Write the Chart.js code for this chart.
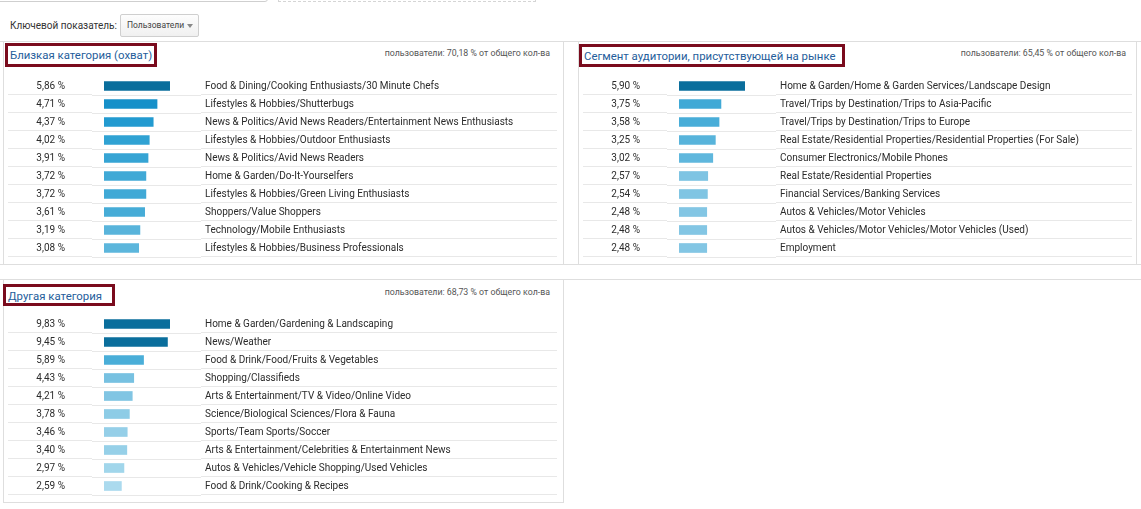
<!DOCTYPE html>
<html lang="ru">
<head>
<meta charset="utf-8">
<title>Категории аудитории</title>
<script src="https://cdn.jsdelivr.net/npm/chart.js@4.4.1/dist/chart.umd.min.js"></script>
<style>
  html, body { margin: 0; padding: 0; background: #fff; }
  body { width: 1141px; height: 509px; position: relative; overflow: hidden; font-family: Roboto, Arial, sans-serif; }
  .abs { position: absolute; }
  .hline { position: absolute; left: 0; width: 1141px; height: 1px; background: #dedede; }
  .panel { position: absolute; border-left: 1px solid #dedede; border-right: 1px solid #dedede; box-sizing: border-box; }
  .title { position: absolute; border: 3px solid #7a0b1d; box-sizing: border-box; font-size: 11.4px; color: #255d9b; line-height: 18px; padding-left: 2px; white-space: nowrap; }
  .total { position: absolute; font-size: 8.8px; color: #555; white-space: nowrap; text-align: right; }
  canvas { position: absolute; }
</style>
</head>
<body>
  <!-- top leftovers of the toolbar -->
  <div class="abs" style="left:-5px; top:-30px; width:273px; height:32px; border:1px solid #cfcfcf; border-radius:3px; box-sizing:border-box;"></div>
  <div class="abs" style="left:278px; top:-30px; width:258px; height:32px; border:1px dashed #d5d5d5; box-sizing:border-box;"></div>

  <div class="abs" style="left:10px; top:20px; font-size:10px; color:#333;">Ключевой показатель:</div>
  <div class="abs" style="left:120px; top:14px; width:79px; height:23px; border:1px solid #cfcfcf; border-radius:2px; box-sizing:border-box; background:linear-gradient(#fdfdfd,#f0f0f0);">
    <span class="abs" style="left:6px; top:5px; font-size:8.5px; color:#444;">Пользователи</span>
    <span class="abs" style="left:66px; top:9px; width:0; height:0; border-left:3px solid transparent; border-right:3px solid transparent; border-top:4px solid #888;"></span>
  </div>

  <div class="hline" style="top:41px;"></div>
  <div class="hline" style="top:264px;"></div>
  <div class="hline" style="top:279px;"></div>

  <div class="panel" style="left:3px; top:41px; width:561px; height:224px;"></div>
  <div class="panel" style="left:578px; top:41px; width:559px; height:224px;"></div>
  <div class="panel" style="left:3px; top:279px; width:561px; height:224px; border-bottom:1px solid #dedede;"></div>

  <div id="title0" class="title" style="left:5px; top:43px; width:152px; height:24px;"></div>
  <div id="title1" class="title" style="left:579px; top:44px; width:266px; height:23px;"></div>
  <div id="title2" class="title" style="left:3px; top:284px; width:112px; height:22px;"></div>

  <div id="total0" class="total" style="right:591px; top:48px;"></div>
  <div id="total1" class="total" style="right:15px; top:48px;"></div>
  <div id="total2" class="total" style="right:591px; top:287px;"></div>

  <canvas id="chart0" width="549" height="192" style="left:8px; top:71px;"></canvas>
  <canvas id="chart1" width="549" height="192" style="left:583px; top:71px;"></canvas>
  <canvas id="chart2" width="549" height="192" style="left:8px; top:309px;"></canvas>

<script>
// Panel titles and "share of total" captions
const panelTitles = ['Близкая категория (охват)', 'Сегмент аудитории, присутствующей на рынке', 'Другая категория'];
const panelTotals = [70.18, 65.45, 68.73];

// Affinity categories
const affinityCats = [
    'Food & Dining/Cooking Enthusiasts/30 Minute Chefs',
    'Lifestyles & Hobbies/Shutterbugs',
    'News & Politics/Avid News Readers/Entertainment News Enthusiasts',
    'Lifestyles & Hobbies/Outdoor Enthusiasts',
    'News & Politics/Avid News Readers',
    'Home & Garden/Do-It-Yourselfers',
    'Lifestyles & Hobbies/Green Living Enthusiasts',
    'Shoppers/Value Shoppers',
    'Technology/Mobile Enthusiasts',
    'Lifestyles & Hobbies/Business Professionals'
];
const affinityVals = [5.86, 4.71, 4.37, 4.02, 3.91, 3.72, 3.72, 3.61, 3.19, 3.08];

// In-market segments
const inMarketCats = [
    'Home & Garden/Home & Garden Services/Landscape Design',
    'Travel/Trips by Destination/Trips to Asia-Pacific',
    'Travel/Trips by Destination/Trips to Europe',
    'Real Estate/Residential Properties/Residential Properties (For Sale)',
    'Consumer Electronics/Mobile Phones',
    'Real Estate/Residential Properties',
    'Financial Services/Banking Services',
    'Autos & Vehicles/Motor Vehicles',
    'Autos & Vehicles/Motor Vehicles/Motor Vehicles (Used)',
    'Employment'
];
const inMarketVals = [5.90, 3.75, 3.58, 3.25, 3.02, 2.57, 2.54, 2.48, 2.48, 2.48];

// Other categories
const otherCats = [
    'Home & Garden/Gardening & Landscaping',
    'News/Weather',
    'Food & Drink/Food/Fruits & Vegetables',
    'Shopping/Classifieds',
    'Arts & Entertainment/TV & Video/Online Video',
    'Science/Biological Sciences/Flora & Fauna',
    'Sports/Team Sports/Soccer',
    'Arts & Entertainment/Celebrities & Entertainment News',
    'Autos & Vehicles/Vehicle Shopping/Used Vehicles',
    'Food & Drink/Cooking & Recipes'
];
const otherVals = [9.83, 9.45, 5.89, 4.43, 4.21, 3.78, 3.46, 3.40, 2.97, 2.59];

const fmtPct = v => v.toFixed(2).replace('.', ',') + ' %';

// bar colour depends on the share of the panel's largest value
const colorStops = [
    [0.00, [184, 224, 242]],
    [0.26, [172, 218, 238]],
    [0.30, [162, 214, 235]],
    [0.35, [149, 207, 232]],
    [0.39, [140, 203, 230]],
    [0.43, [128, 197, 227]],
    [0.51, [95, 183, 221]],
    [0.55, [88, 180, 219]],
    [0.60, [74, 174, 216]],
    [0.64, [63, 168, 214]],
    [0.69, [47, 161, 211]],
    [0.75, [33, 153, 208]],
    [0.80, [22, 145, 203]],
    [0.90, [10, 110, 156]],
    [1.00, [10, 110, 156]]
];
function colorFor(ratio) {
    for (let i = 1; i < colorStops.length; i++) {
        const [r1, c1] = colorStops[i];
        if (ratio <= r1) {
            const [r0, c0] = colorStops[i - 1];
            const t = (ratio - r0) / (r1 - r0);
            const c = c0.map((v, k) => Math.round(v + (c1[k] - v) * t));
            return `rgb(${c[0]}, ${c[1]}, ${c[2]})`;
        }
    }
    return 'rgb(10, 110, 156)';
}

// light separators under every row, split in three columns like the table
const rowLines = {
    id: 'rowLines',
    beforeDatasetsDraw(chart) {
        const y = chart.scales.y;
        const ctx = chart.ctx;
        const step = y.getPixelForValue(1) - y.getPixelForValue(0);
        const seg = (x0, x1, yy) => {
            ctx.beginPath();
            ctx.moveTo(x0, yy);
            ctx.lineTo(x1, yy);
            ctx.stroke();
        };
        ctx.save();
        ctx.strokeStyle = '#e8e8e8';
        ctx.lineWidth = 1;
        for (let i = 0; i < y.ticks.length; i++) {
            const b = Math.round(y.getPixelForValue(i) + step / 2);
            seg(0, 84, b - 0.5);
            seg(84, 193, b + 0.5);
            seg(193, chart.width, b - 0.5);
        }
        ctx.restore();
    }
};

const tickFont = { family: 'Roboto', size: 10 };

// invisible tick marks push the labels away from the bars
const gapGrid = len => ({
    color: 'transparent',
    drawOnChartArea: false,
    drawTicks: true,
    tickLength: len
});

function makeChart(id, cats, vals) {
    const max = Math.max(...vals);
    return new Chart(document.getElementById(id), {
        type: 'bar',
        data: {
            labels: cats,
            datasets: [{
                data: vals,
                backgroundColor: vals.map(v => colorFor(v / max)),
                borderWidth: 0,
                barThickness: 9
            }]
        },
        options: {
            indexAxis: 'y',
            responsive: false,
            animation: false,
            devicePixelRatio: 1,
            layout: { padding: 0 },
            plugins: { legend: { display: false }, tooltip: { enabled: false } },
            scales: {
                x: { display: false, min: 0, max: max },
                y: {
                    position: 'left',
                    grid: gapGrid(39),
                    border: { display: false },
                    ticks: {
                        padding: 0,
                        color: '#2b2b2b',
                        font: tickFont,
                        callback: (value, index) => fmtPct(vals[index])
                    },
                    afterFit: scale => { scale.width = 96; }
                },
                y2: {
                    type: 'category',
                    position: 'right',
                    offset: true,
                    grid: gapGrid(35),
                    border: { display: false },
                    ticks: { padding: 0, color: '#2b2b2b', font: tickFont, autoSkip: false },
                    afterFit: scale => { scale.width = 387; }
                }
            }
        },
        plugins: [rowLines]
    });
}

panelTitles.forEach((t, i) => {
    document.getElementById('title' + i).textContent = t;
    document.getElementById('total' + i).textContent =
        'пользователи: ' + panelTotals[i].toFixed(2).replace('.', ',') + ' % от общего кол-ва';
});

makeChart('chart0', affinityCats, affinityVals);
makeChart('chart1', inMarketCats, inMarketVals);
makeChart('chart2', otherCats, otherVals);
</script>
</body>
</html>
